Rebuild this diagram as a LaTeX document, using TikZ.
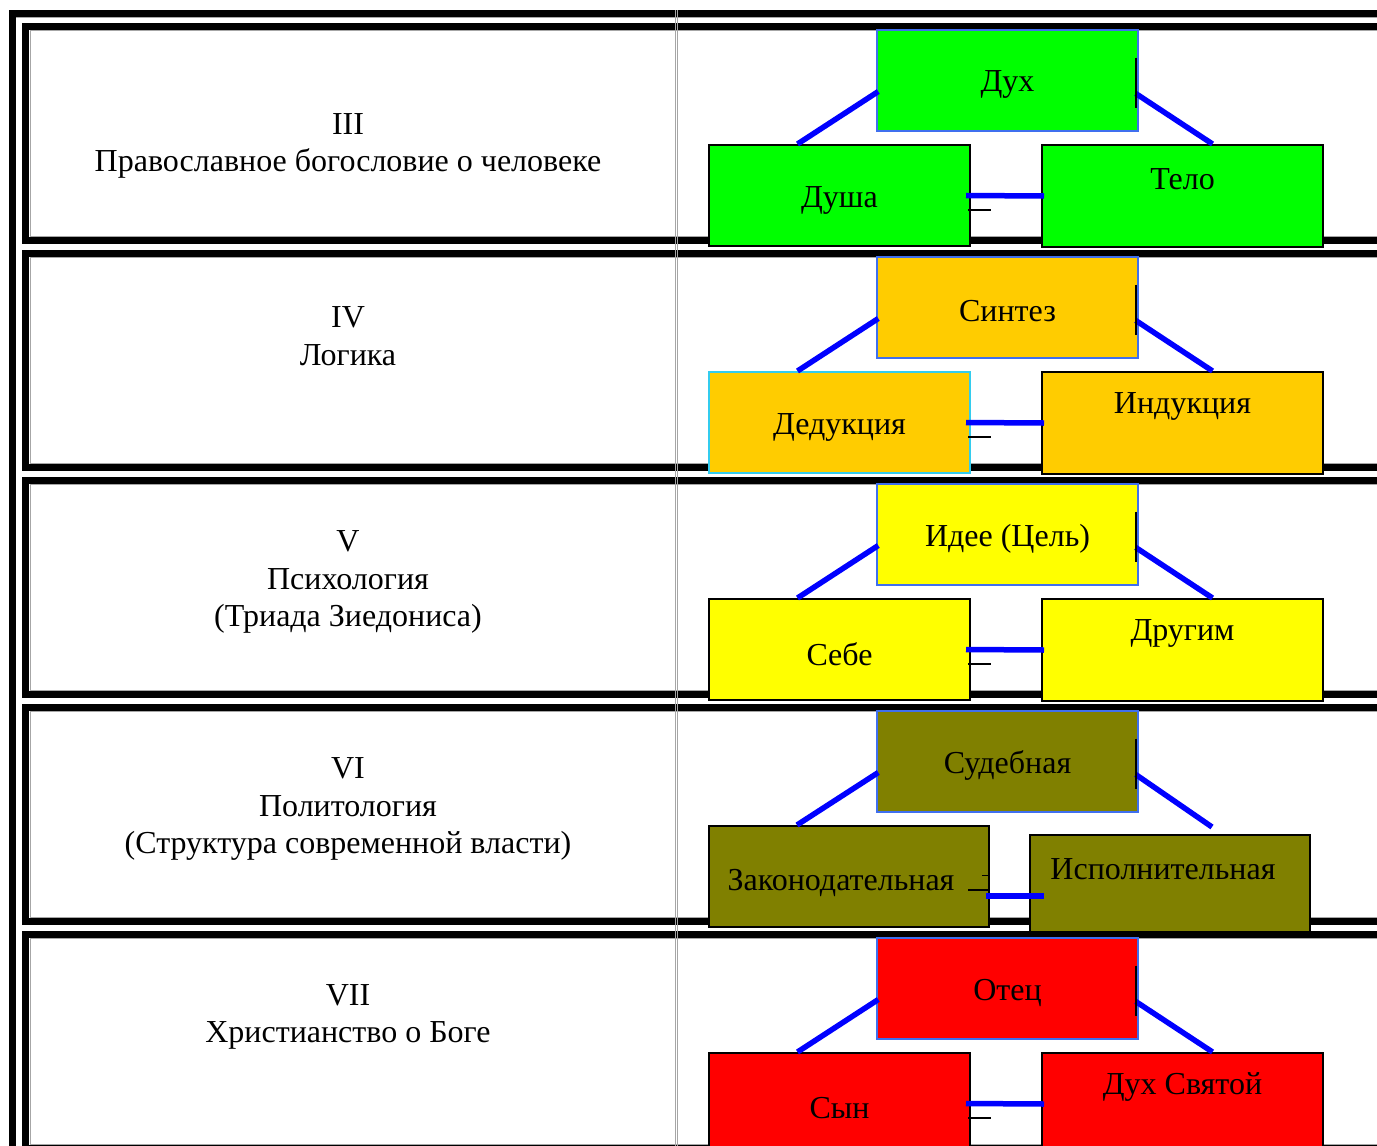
\documentclass[tikz,border=0pt]{standalone}
\usepackage{fontspec}
\setmainfont{Liberation Serif}
\definecolor{cgreen}{HTML}{00FF00}
\definecolor{corange}{HTML}{FFCC00}
\definecolor{cyellow}{HTML}{FFFF00}
\definecolor{colive}{HTML}{808000}
\definecolor{cred}{HTML}{FF0000}
\definecolor{topblue}{HTML}{3F6FEF}
\definecolor{dedcyan}{HTML}{33CCEE}
\definecolor{conblue}{HTML}{0000FF}
\tikzset{
  topbox/.style={draw=topblue, line width=1.5pt, minimum width=261pt, minimum height=101pt, inner sep=0pt},
  botbox/.style={draw=black, line width=2pt, minimum height=101pt, inner sep=0pt},
  conn/.style={draw=conblue, line width=5.5pt},
  txt/.style={font=\fontsize{32}{37.5}\selectfont, align=center, inner sep=0pt},
  tickmark/.style={draw=black, line width=1.5pt},
  rowline/.style={draw=black, line width=7pt},
  thingray/.style={draw=gray!70, line width=1pt}
}
% #1 row id, #2 fill, #3 left border colour, #5 row label, #7 label y
\newcommand{\triadrow}[7]{%
  \draw[rowline] (1400,26.5) -- (25.5,26.5) -- (25.5,240.5) -- (1400,240.5);
  \draw[thingray] (1400,30.5) -- (30,30.5) -- (30,236.5) -- (1400,236.5);
  \node[txt] (lab#1) at (348,#7) {#5};
  \node[topbox, fill=#2] (top#1) at (1007.5,80.5) {};
  \node[botbox, fill=#2, draw=#3, minimum width=261pt] (left#1) at (839.5,195.5) {};
  \node[botbox, fill=#2, minimum width=281pt, minimum height=102pt] (right#1) at (1182.5,196) {};
}
\begin{document}
\begin{tikzpicture}[x=1pt,y=-1pt]
\useasboundingbox (0,0) rectangle (1377,1146);
\fill[white] (0,0) rectangle (1377,1146);
\begin{scope}
\clip (0,0) rectangle (1377,1146);
% outer frame
\draw[rowline] (12.5,1160) -- (12.5,13.5) -- (1400,13.5);
\draw[thingray] (16,17.5) -- (1400,17.5);
\begin{scope}
\triadrow{a}{cgreen}{black}{}{III\\Православное богословие о человеке}{}{146}
\end{scope}
\begin{scope}[shift={(0,227)}]
\triadrow{b}{corange}{dedcyan}{}{IV\\Логика}{}{109}
\end{scope}
\begin{scope}[shift={(0,454)}]
\triadrow{c}{cyellow}{black}{}{V\\Психология\\(Триада Зиедониса)}{}{128}
\end{scope}
% row 4 (special)
\begin{scope}[shift={(0,681)}]
  \draw[rowline] (1400,26.5) -- (25.5,26.5) -- (25.5,240.5) -- (1400,240.5);
  \draw[thingray] (1400,30.5) -- (30,30.5) -- (30,236.5) -- (1400,236.5);
  \node[txt] (labd) at (348,128) {VI\\Политология\\(Структура современной власти)};
  \node[topbox, fill=colive] (topd) at (1007.5,80.5) {};
  \node[botbox, fill=colive, minimum width=280pt] (leftd) at (849,195.5) {};
  \node[botbox, fill=colive, minimum width=280pt] (rightd) at (1170,204.5) {};
\end{scope}
\begin{scope}[shift={(0,908)}]
\triadrow{e}{cred}{black}{}{VII\\Христианство о Боге}{}{109}
\end{scope}
% column separator
\draw[thingray, line width=0.8pt] (675,10) -- (675,1146);
\draw[thingray, line width=0.8pt] (677.5,10) -- (677.5,1146);
\end{scope}
% texts in the boxes
\node[txt] (ta) at ([yshift=-4]topa) {Дух};
\node[txt] (la) at ([yshift=-5]lefta) {Душа};
\node[txt] (ra) at ([yshift=17]righta) {Тело};
\node[txt] (tb) at ([yshift=-4]topb) {Синтез};
\node[txt] (lb) at ([yshift=-5]leftb) {Дедукция};
\node[txt] (rb) at ([yshift=17]rightb) {Индукция};
\node[txt] (tc) at ([yshift=-4]topc) {Идее (Цель)};
\node[txt] (lc) at ([yshift=-5]leftc) {Себе};
\node[txt] (rc) at ([yshift=17]rightc) {Другим};
\node[txt] (td) at ([yshift=-4]topd) {Судебная};
\node[txt] (ld) at ([xshift=-8,yshift=-6]leftd) {Законодательная};
\node[txt] (rd) at ([xshift=-7,yshift=16.5]rightd) {Исполнительная};
\node[txt] (te) at ([yshift=-4]tope) {Отец};
\node[txt] (le) at ([yshift=-5]lefte) {Сын};
\node[txt] (re) at ([yshift=17]righte) {Дух Святой};
% connectors and marks
\foreach \r in {a,b,c,e}{
  \draw[conn] ([xshift=2,yshift=-11]top\r.west) -- ([xshift=-42]left\r.north);
  \draw[conn] ([xshift=-3,yshift=-13]top\r.east) -- ([xshift=30]right\r.north);
  \draw[conn] ([xshift=-5]left\r.east) -- ([xshift=3]right\r.west);
  \draw[tickmark] ([xshift=-3,yshift=23]top\r.east) -- ([xshift=-3,yshift=-27]top\r.east);
  \draw[tickmark] ([xshift=-3,yshift=-14.5]left\r.east) -- ([xshift=20,yshift=-14.5]left\r.east);
}
\draw[conn] ([xshift=2,yshift=-11]topd.west) -- ([xshift=-52]leftd.north);
\draw[conn] ([xshift=-3,yshift=-13]topd.east) -- ([xshift=42,yshift=7]rightd.north);
\draw[conn] ([xshift=-4,yshift=-19.5]leftd.east) -- ([xshift=15,yshift=-10.5]rightd.west);
\draw[tickmark] ([xshift=-3,yshift=23]topd.east) -- ([xshift=-3,yshift=-27]topd.east);
\draw[tickmark] ([xshift=-22,yshift=-13.5]leftd.east) -- ([xshift=-1,yshift=-13.5]leftd.east);
\draw[tickmark] ([xshift=-8,yshift=1]leftd.east) -- ([xshift=-1,yshift=1]leftd.east);
\end{tikzpicture}
\end{document}
